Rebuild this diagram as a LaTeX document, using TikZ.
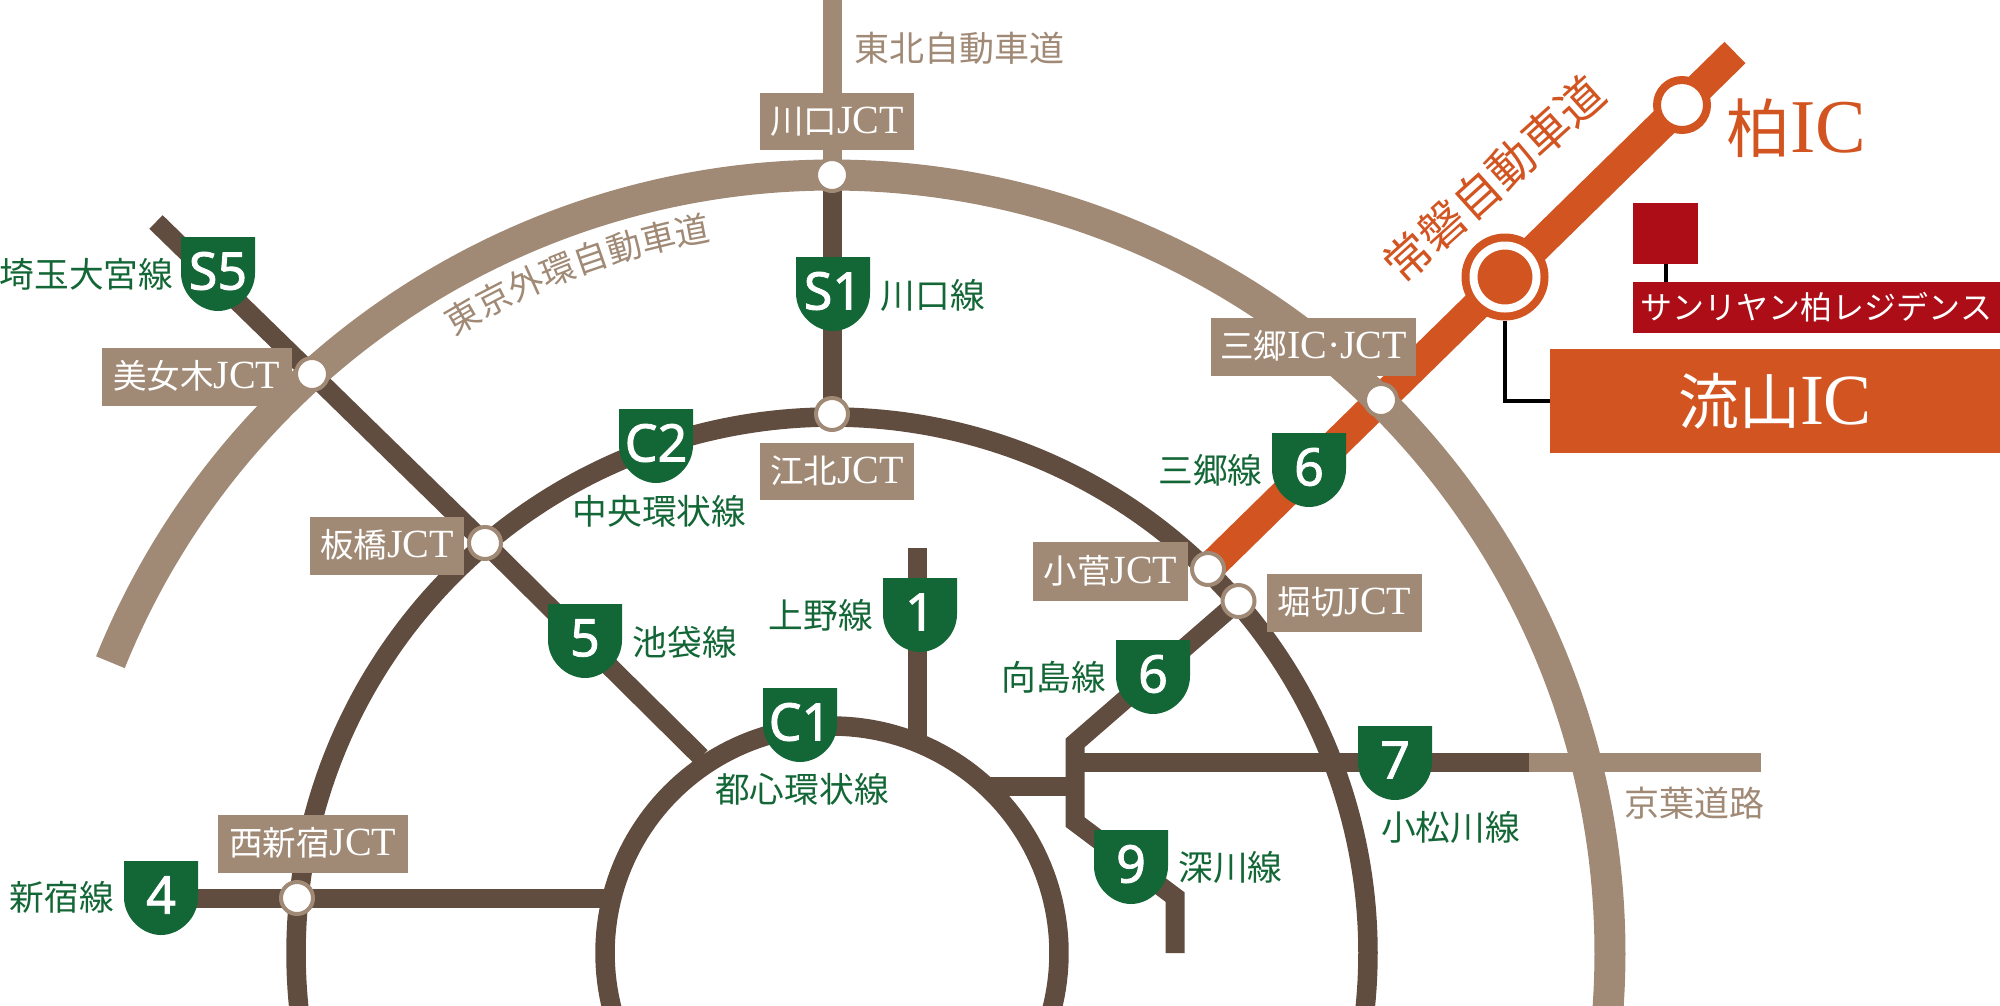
\documentclass[tikz,border=0pt]{standalone}
\usepackage{fontspec}
\usetikzlibrary{decorations.text}
\setmainfont{Liberation Serif}
\newfontfamily\cjk{Noto Sans CJK JP}
\newfontfamily\shf[FakeBold=1.6]{Noto Sans}
\definecolor{gr}{HTML}{136635}
\definecolor{br}{HTML}{604D3F}
\definecolor{tn}{HTML}{A08975}
\definecolor{og}{HTML}{D15421}
\definecolor{rd}{HTML}{AC0D16}
\newcommand\fs[1]{\fontsize{#1}{#1}\selectfont}
\newcommand\J[1]{{\cjk\fs{33.5}#1}}
\tikzset{
 road/.style={line width=19pt},
 brroad/.style={road,draw=br},
 tnroad/.style={road,draw=tn},
 jct/.style={circle,fill=white,draw=tn,line width=4pt,minimum size=32pt,inner sep=0pt},
 lab/.style={fill=tn,text=white,inner sep=0pt,font=\fs{40},text height=29pt,text depth=6pt,align=center},
 gl/.style={text=gr,inner sep=0pt,font=\fs{34.7}\cjk},
 tl/.style={text=tn,inner sep=0pt,font=\fs{35}\cjk},
 shtxt/.style={text=white,inner sep=0pt,font=\fs{52}\shf},
}
\newcommand\shield[4]{%
 \fill[gr,shift={(#2,#3)}] (-37,0)--(37,0)--(37,36) .. controls (37,58) and (18,74) .. (0,74) .. controls (-18,74) and (-37,58) .. (-37,36) -- cycle;
 \node[shtxt] (#1) at (#2,#3+34) {#4};}
\newcommand\tagbox[6]{% name, x1,y1,x2,y2, text
 \node[lab,minimum width=#4-#2,minimum height=#5-#3] (#1) at ({(#2+#4)/2},{(#3+#5)/2}) {#6};}
\begin{document}
\begin{tikzpicture}[x=1pt,y=-1pt]
\useasboundingbox (0,0) rectangle (2000,1005);
\begin{scope}
\clip (0,0) rectangle (2000,1005);
\coordinate (top) at (832,0);
\coordinate (kw) at (832,175);
\coordinate (ko) at (832,414);
\coordinate (s5a) at (156,222);
\coordinate (bj) at (312,374);
\coordinate (it) at (485,543);
\coordinate (s5b) at (701,757);
\coordinate (u1) at (917,548);
\coordinate (u2) at (917,738);
\coordinate (sh1) at (161,898);
\coordinate (ns) at (297,898);
\coordinate (sh2) at (610,898);
\coordinate (kos) at (1208,569);
\coordinate (hor) at (1238.5,601);
\coordinate (m1) at (1075,743);
\coordinate (m2) at (1075,822);
\coordinate (m3) at (1175,897);
\coordinate (m4) at (1175,953);
\coordinate (h1) at (1075,762);
\coordinate (h2) at (1529,762);
\coordinate (h3) at (1761,762);
\coordinate (l1) at (986,786);
\coordinate (l2) at (1075,786);
\coordinate (ora) at (1735,52.5);
\coordinate (kasi) at (1682,105);
\coordinate (nag) at (1505,277);
\coordinate (sag) at (1381,400);
% rings
\draw[br,line width=19.5pt] plot[domain=190:-10,samples=200] ({832+536*cos(\x)},{953-536*sin(\x)});
\draw[br,line width=19.5pt] plot[domain=200:-20,samples=120] ({832+227*cos(\x)},{953-227*sin(\x)});
\draw[brroad] (kw) -- (ko);
\draw[brroad] (s5a) -- (bj) -- (it) -- (s5b);
\draw[brroad] (u1) -- (u2);
\draw[brroad] (sh1) -- (sh2);
\draw[brroad,line join=miter] (hor) -- (m1) -- (m2) -- (m3) -- (m4);
\draw[brroad] (h1) -- (h2);
\draw[brroad] (l1) -- (l2);
\draw[og,line width=30pt] (kos) -- (ora);
\draw[tn,line width=31pt] plot[domain=158.05:-5,samples=300] ({832+778*cos(\x)},{953-778*sin(\x)});
\draw[tnroad] (top) -- (kw);
\draw[tnroad] (h2) -- (h3);
\end{scope}
% curved label
\path[decorate,decoration={text along path,text align=center,text color=tn,
 text={|\fs{34.5}\cjk|東京外環自動車道}}]
 plot[domain=125.5:95.5,samples=60] ({832+723*cos(\x)},{953-723*sin(\x)});
\node[fill=rd,minimum width=65pt,minimum height=61pt,inner sep=0pt] (sq) at (1665.5,233.5) {};
\tagbox{kwl}{760}{93}{914}{150}{\J{川口}JCT}
\tagbox{bjl}{102}{348}{291.5}{406}{\J{美女木}JCT}
\tagbox{kol}{760}{443}{914}{500}{\J{江北}JCT}
\tagbox{itl}{310}{517}{464}{575}{\J{板橋}JCT}
\tagbox{nsl}{218}{815}{407.5}{873}{\J{西新宿}JCT}
\tagbox{sgl}{1211}{318}{1416}{376}{\J{三郷}IC·JCT}
\tagbox{ksl}{1033}{542}{1188}{601}{\J{小菅}JCT}
\tagbox{hrl}{1267}{574}{1422}{632}{\J{堀切}JCT}
\node[fill=rd,text=white,inner sep=0pt,minimum width=367pt,minimum height=51pt,font=\fs{32}\cjk] (res) at (1816.5,307.5) {サンリヤン柏レジデンス};
\node[fill=og,text=white,inner sep=0pt,minimum width=450pt,minimum height=104pt,font=\fs{72}] (nagl) at (1775,401) {{\cjk\fs{61}流山}IC};
\draw[black,line width=4pt] (sq.south) -- (sq.south |- res.north);
% junctions
\node[jct] (jkw) at (kw) {};
\node[jct] (jbj) at (bj) {};
\node[jct] (jko) at (ko) {};
\node[jct] (jit) at (it) {};
\node[jct] (jns) at (ns) {};
\node[jct] (jsg) at (sag) {};
\node[jct] (jks) at (kos) {};
\node[jct] (jhr) at (hor) {};
\node[circle,fill=white,draw=og,line width=8pt,minimum size=50pt,inner sep=0pt] (jkasi) at (kasi) {};
\node[circle,fill=og,minimum size=87pt,inner sep=0pt] (jnag) at (nag) {};
\node[circle,fill=og,draw=white,line width=8pt,minimum size=63pt,inner sep=0pt] (jnagi) at (nag) {};
\draw[black,line width=4pt] (jnag.south) |- (nagl.west);
% shields
\shield{s5}{218}{237}{S5}
\shield{s1}{833}{257}{S1}
\shield{c2}{656}{409}{C2}
\shield{r6a}{1309}{433}{6}
\shield{r4}{161}{861}{4}
\shield{r5}{585}{604}{5}
\shield{r1}{920}{578}{1}
\shield{c1}{800}{688}{C1}
\shield{r6b}{1153}{640}{6}
\shield{r7}{1395}{726}{7}
\shield{r9}{1131}{830}{9}
% texts
\node[tl] (t1) at (959.5,48) {東北自動車道};
\node[tl] (t2) at (1694.5,803) {京葉道路};
\node[gl] (g1) at (86.5,274) {埼玉大宮線};
\node[gl] (g2) at (933,295) {川口線};
\node[gl] (g3) at (659.5,511) {中央環状線};
\node[gl] (g4) at (685,642) {池袋線};
\node[gl] (g5) at (821,615) {上野線};
\node[gl] (g6) at (802,789) {都心環状線};
\node[gl] (g7) at (62,897) {新宿線};
\node[gl] (g8) at (1210.5,470) {三郷線};
\node[gl] (g9) at (1054,677) {向島線};
\node[gl] (g10) at (1450.5,827) {小松川線};
\node[gl] (g11) at (1230.5,867) {深川線};
\node[text=og,inner sep=0pt,font=\fs{76}] (kt) at (1796.5,128) {{\cjk\fs{64}柏}IC};
\node[text=og,inner sep=0pt,rotate=42,font=\fs{46.5}\cjk] (jt) at (1494,179) {常磐自動車道};
\end{tikzpicture}
\end{document}
